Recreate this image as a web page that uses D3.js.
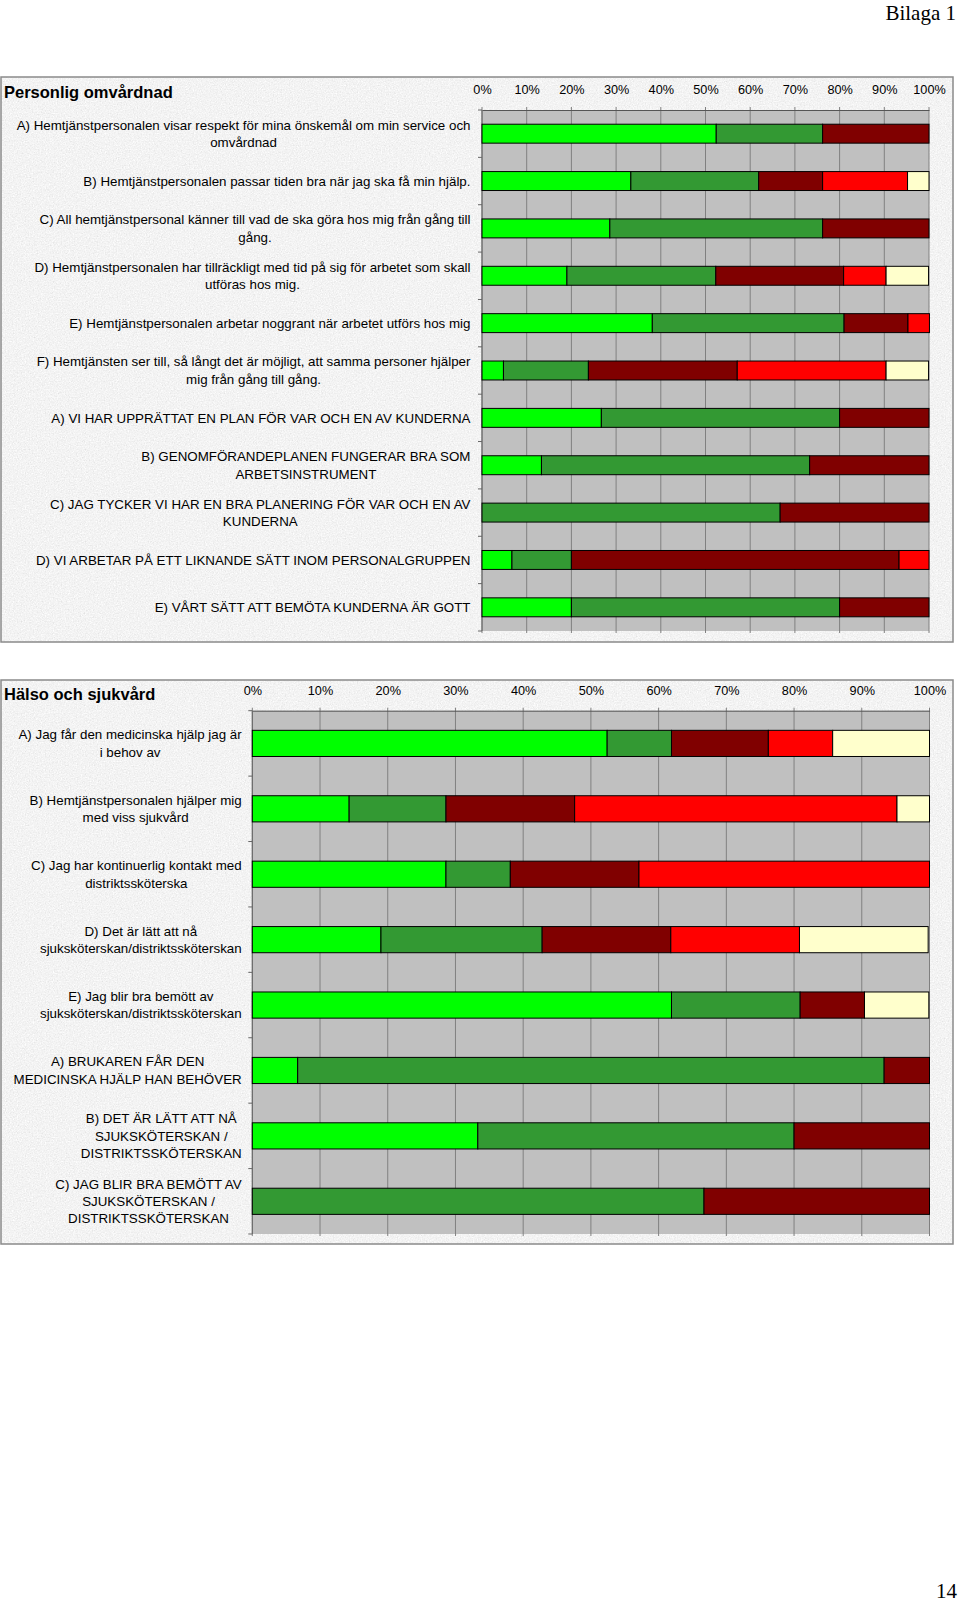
<!DOCTYPE html>
<html>
<head>
<meta charset="utf-8">
<script src="https://cdn.jsdelivr.net/npm/d3@7"></script>
<style>
  body { margin: 0; background: #fff; }
  svg { display: block; }
  text { font-family: "Liberation Sans", Arial, sans-serif; fill: #000; }
</style>
</head>
<body>
<script>
// colours of the five answer groups (left to right)
const seriesKeys = ["s1", "s2", "s3", "s4", "s5"];
const seriesColors = ["#00ff00", "#339933", "#800000", "#ff0000", "#ffffcc"];

// percent ticks
const tickValues = [0, 10, 20, 30, 40, 50, 60, 70, 80, 90, 100];

// chart 1 - Personlig omvårdnad
const omvLabels = [
  ["A)  Hemtjänstpersonalen visar respekt för mina önskemål om min service och", "omvårdnad"],
  ["B)  Hemtjänstpersonalen passar tiden bra när jag ska få min hjälp."],
  ["C)  All hemtjänstpersonal känner till vad de ska göra hos mig från gång till", "gång."],
  ["D)  Hemtjänstpersonalen har tillräckligt med tid på sig för arbetet som skall", "utföras hos mig."],
  ["E)  Hemtjänstpersonalen arbetar noggrant när arbetet utförs hos mig"],
  ["F)  Hemtjänsten ser till, så långt det är möjligt, att samma personer hjälper", "mig från gång till gång."],
  ["A) VI HAR UPPRÄTTAT EN PLAN FÖR VAR OCH EN AV KUNDERNA"],
  ["B) GENOMFÖRANDEPLANEN FUNGERAR BRA SOM", "ARBETSINSTRUMENT"],
  ["C) JAG TYCKER VI HAR EN BRA PLANERING FÖR VAR OCH EN AV", "KUNDERNA"],
  ["D) VI ARBETAR PÅ ETT LIKNANDE SÄTT INOM PERSONALGRUPPEN"],
  ["E) VÅRT SÄTT ATT BEMÖTA KUNDERNA ÄR GOTT"]
];
const omvS1 = [52.4, 33.3, 28.6, 19.0, 38.1, 4.8, 26.7, 13.3, 0, 6.7, 20];
const omvS2 = [23.8, 28.6, 47.6, 33.3, 42.9, 19.0, 53.3, 60, 66.7, 13.3, 60];
const omvS3 = [23.8, 14.3, 23.8, 28.6, 14.3, 33.3, 20, 26.7, 33.3, 73.3, 20];
const omvS4 = [0, 19.0, 0, 9.5, 4.8, 33.3, 0, 0, 0, 6.7, 0];
const omvS5 = [0, 4.8, 0, 9.5, 0, 9.5, 0, 0, 0, 0, 0];

// chart 2 - Hälso och sjukvård
const halsaLabels = [
  ["A)  Jag får den medicinska hjälp jag är", "i behov av"],
  ["B) Hemtjänstpersonalen hjälper mig", "med viss sjukvård"],
  ["C) Jag har kontinuerlig kontakt med", "distriktssköterska"],
  ["D)  Det är lätt att nå", "sjuksköterskan/distriktssköterskan"],
  ["E)  Jag blir bra bemött av", "sjuksköterskan/distriktssköterskan"],
  ["A) BRUKAREN FÅR DEN", "MEDICINSKA HJÄLP HAN BEHÖVER"],
  ["B) DET ÄR LÄTT ATT NÅ", "SJUKSKÖTERSKAN /", "DISTRIKTSSKÖTERSKAN"],
  ["C) JAG BLIR BRA BEMÖTT AV", "SJUKSKÖTERSKAN /", "DISTRIKTSSKÖTERSKAN"]
];
const halsaS1 = [52.4, 14.3, 28.6, 19.0, 61.9, 6.7, 33.3, 0];
const halsaS2 = [9.5, 14.3, 9.5, 23.8, 19.0, 86.6, 46.7, 66.7];
const halsaS3 = [14.3, 19.0, 19.0, 19.0, 9.5, 6.7, 20, 33.3];
const halsaS4 = [9.5, 47.6, 42.9, 19.0, 0, 0, 0, 0];
const halsaS5 = [14.3, 4.8, 0, 19.0, 9.5, 0, 0, 0];

const width = 960;
const height = 1605;

const svg = d3.select("body").append("svg")
  .attr("width", width)
  .attr("height", height);

// granite-like texture for the chart panels
const defs = svg.append("defs");
const filter = defs.append("filter")
  .attr("id", "granite")
  .attr("x", 0).attr("y", 0).attr("width", 1).attr("height", 1);
filter.append("feTurbulence")
  .attr("type", "fractalNoise")
  .attr("baseFrequency", 0.75)
  .attr("numOctaves", 3)
  .attr("seed", 7);
filter.append("feColorMatrix")
  .attr("type", "matrix")
  .attr("values", "0.17 0.17 0.17 0 0.64  0.17 0.17 0.17 0 0.64  0.17 0.17 0.17 0 0.64  0 0 0 0 1");

// page header / footer
svg.append("text")
  .attr("x", 956).attr("y", 20)
  .attr("text-anchor", "end")
  .style("font-family", "'Liberation Serif', 'Times New Roman', serif")
  .style("font-size", "21px")
  .text("Bilaga 1");

svg.append("text")
  .attr("x", 957).attr("y", 1598)
  .attr("text-anchor", "end")
  .style("font-family", "'Liberation Serif', 'Times New Roman', serif")
  .style("font-size", "21px")
  .text("14");

function drawChart(cfg) {
  const g = svg.append("g");

  // panel
  g.append("rect")
    .attr("x", cfg.panel[0]).attr("y", cfg.panel[1])
    .attr("width", cfg.panel[2]).attr("height", cfg.panel[3])
    .attr("fill", "#e4e4e4")
    .attr("filter", "url(#granite)");
  g.append("rect")
    .attr("x", cfg.panel[0]).attr("y", cfg.panel[1])
    .attr("width", cfg.panel[2]).attr("height", cfg.panel[3])
    .attr("fill", "none")
    .attr("stroke", "#8a8a8a")
    .attr("stroke-width", 1.5);

  // title
  g.append("text")
    .attr("x", 4).attr("y", cfg.titleY)
    .style("font-size", "16.5px")
    .style("font-weight", "bold")
    .text(cfg.title);

  const rows = cfg.labels.map((l, i) => ({
    i: i,
    s1: cfg.series[0][i], s2: cfg.series[1][i], s3: cfg.series[2][i],
    s4: cfg.series[3][i], s5: cfg.series[4][i]
  }));

  const x = d3.scaleLinear().domain([0, 100]).range([cfg.x0, cfg.x1]);
  const y = d3.scaleBand()
    .domain(d3.range(cfg.labels.length))
    .range([cfg.y0, cfg.y1])
    .paddingInner(0.6)
    .paddingOuter(0.3);

  // plot area
  g.append("rect")
    .attr("x", cfg.x0).attr("y", cfg.y0)
    .attr("width", cfg.x1 - cfg.x0).attr("height", cfg.y1 - cfg.y0)
    .attr("fill", "#c0c0c0");

  // vertical gridlines
  g.append("g")
    .selectAll("line")
    .data(tickValues)
    .join("line")
    .attr("x1", d => x(d)).attr("x2", d => x(d))
    .attr("y1", cfg.y0 - 3).attr("y2", cfg.y1 + 2)
    .attr("stroke", "#808080")
    .attr("stroke-width", 1);

  // top value axis
  const xAxis = g.append("g")
    .attr("transform", `translate(0,${cfg.y0})`)
    .call(d3.axisTop(x).tickValues(tickValues).tickSize(0).tickPadding(0).tickFormat(d => d + "%"));
  xAxis.select(".domain").attr("stroke", "#555");
  xAxis.selectAll("text")
    .attr("y", cfg.tickY - cfg.y0)
    .attr("dy", null)
    .style("font-family", "'Liberation Sans', Arial, sans-serif")
    .style("font-size", "12.7px")
    .attr("fill", "#000");

  // category axis line and ticks at band boundaries
  g.append("line")
    .attr("x1", cfg.x0).attr("x2", cfg.x0)
    .attr("y1", cfg.y0).attr("y2", cfg.y1)
    .attr("stroke", "#666");
  const step = y.step();
  g.append("g")
    .selectAll("line")
    .data(d3.range(cfg.labels.length + 1))
    .join("line")
    .attr("x1", cfg.x0 - 4).attr("x2", cfg.x0)
    .attr("y1", d => y(0) - step * 0.3 + d * step)
    .attr("y2", d => y(0) - step * 0.3 + d * step)
    .attr("stroke", "#666");

  // stacked bars
  const stacked = d3.stack().keys(seriesKeys)(rows);
  const color = d3.scaleOrdinal().domain(seriesKeys).range(seriesColors);

  g.append("g")
    .selectAll("g")
    .data(stacked)
    .join("g")
    .attr("fill", d => color(d.key))
    .selectAll("rect")
    .data(d => d.filter(v => v[1] - v[0] > 0))
    .join("rect")
    .attr("x", d => x(d[0]))
    .attr("width", d => x(d[1]) - x(d[0]))
    .attr("y", d => y(d.data.i))
    .attr("height", y.bandwidth())
    .attr("stroke", "#000")
    .attr("stroke-width", 1);

  // category labels, centred lines in a box right-aligned to the axis
  const lab = g.append("g")
    .selectAll("text")
    .data(cfg.labels)
    .join("text")
    .style("font-size", "13.35px")
    .attr("text-anchor", "middle");

  lab.each(function (lines, i) {
    const t = d3.select(this);
    const cy = y(i) + y.bandwidth() / 2;
    const top = cy - (lines.length - 1) * cfg.lineH / 2;
    lines.forEach((line, k) => {
      t.append("tspan")
        .attr("y", top + k * cfg.lineH)
        .attr("dy", "0.35em")
        .text(line);
    });
    let maxW = 0;
    t.selectAll("tspan").each(function () {
      maxW = Math.max(maxW, this.getComputedTextLength());
    });
    t.selectAll("tspan").attr("x", cfg.labelRight - maxW / 2);
  });
}

drawChart({
  title: "Personlig omvårdnad",
  labels: omvLabels,
  series: [omvS1, omvS2, omvS3, omvS4, omvS5],
  panel: [1, 77, 952, 565],
  x0: 482, x1: 929, y0: 110, y1: 631,
  labelRight: 470.5,
  lineH: 17.5,
  titleY: 98,
  tickY: 93.5
});

drawChart({
  title: "Hälso och sjukvård",
  labels: halsaLabels,
  series: [halsaS1, halsaS2, halsaS3, halsaS4, halsaS5],
  panel: [1, 680, 952, 564],
  x0: 252.3, x1: 929.5, y0: 710.7, y1: 1234,
  labelRight: 241.7,
  lineH: 17.3,
  titleY: 700,
  tickY: 695
});
</script>
</body>
</html>
